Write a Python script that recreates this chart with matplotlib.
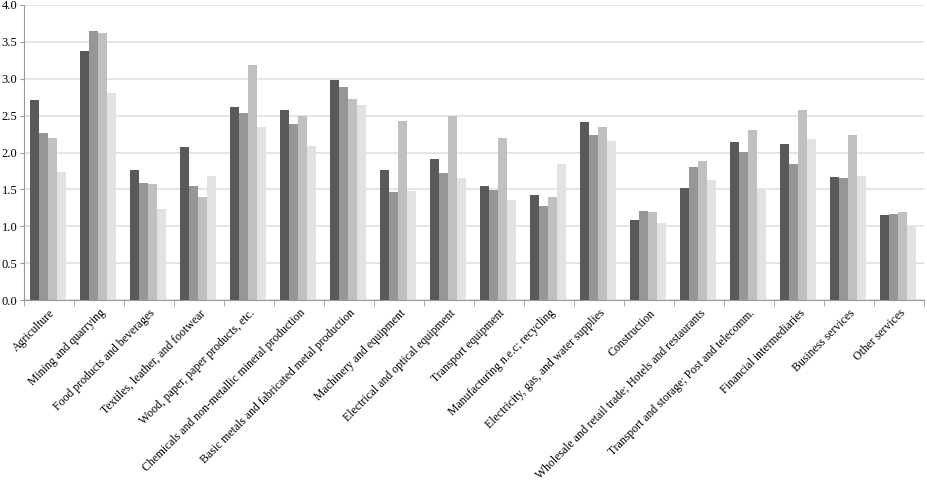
import numpy as np
import matplotlib.pyplot as plt

plt.rc('font', family='Liberation Serif')

sectors = ['Agriculture', 'Mining and quarrying', 'Food products and beverages',
           'Textiles, leather, and footwear', 'Wood, paper, paper products, etc.',
           'Chemicals and non-metallic mineral production',
           'Basic metals and fabricated metal production', 'Machinery and equipment',
           'Electrical and optical equipment', 'Transport equipment',
           'Manufacturing n.e.c; recycling', 'Electricity, gas, and water supplies',
           'Construction', 'Wholesale and retail trade; Hotels and restaurants',
           'Transport and storage; Post and telecomm.', 'Financial intermediaries',
           'Business services', 'Other services']

s1 = [2.71, 3.38, 1.76, 2.08, 2.61, 2.57, 2.98, 1.76, 1.91, 1.54, 1.42, 2.41,
      1.09, 1.52, 2.14, 2.11, 1.67, 1.15]
s2 = [2.26, 3.64, 1.59, 1.54, 2.54, 2.38, 2.89, 1.46, 1.72, 1.49, 1.28, 2.24,
      1.21, 1.81, 2.01, 1.85, 1.65, 1.17]
s3 = [2.19, 3.62, 1.57, 1.40, 3.18, 2.49, 2.73, 2.42, 2.49, 2.20, 1.40, 2.34,
      1.20, 1.88, 2.30, 2.58, 2.24, 1.19]
s4 = [1.74, 2.81, 1.23, 1.68, 2.34, 2.09, 2.64, 1.48, 1.65, 1.35, 1.84, 2.15,
      1.05, 1.63, 1.49, 2.18, 1.68, 1.01]

series = [s1, s2, s3, s4]
colors = ['#595959', '#969696', '#c0c0c0', '#e2e2e2']

fig = plt.figure(figsize=(9.28, 4.88), dpi=100)
ax = fig.add_axes([0.026, 0.385, 0.97, 0.605])

x = np.arange(len(sectors))
w = 0.18
for i, (vals, c) in enumerate(zip(series, colors)):
    ax.bar(x + (i - 1.5) * w - 0.02, vals, width=w, color=c, zorder=2)

ax.set_xlim(-0.5, len(sectors) - 0.5)
ax.set_ylim(0, 4.0)
ax.set_yticks(np.arange(0, 4.01, 0.5))
ax.set_yticklabels(['%.1f' % v for v in np.arange(0, 4.01, 0.5)], fontsize=9)
ax.yaxis.grid(True, color='#e0e0e0', linewidth=1.2, zorder=0)

ax.set_xticks(x)
ax.set_xticklabels(sectors, rotation=45, ha='right', rotation_mode='anchor', fontsize=8.5)
ax.set_xticks(np.arange(-0.5, len(sectors)), minor=True)
ax.tick_params(axis='x', which='major', length=0, pad=5)
ax.tick_params(axis='x', which='minor', length=4, color='#999999')
ax.tick_params(axis='y', length=3, color='#999999', pad=2)

for s in ['top', 'right']:
    ax.spines[s].set_visible(False)
for s in ['left', 'bottom']:
    ax.spines[s].set_color('#999999')

fig.savefig('out.png', dpi=100)
